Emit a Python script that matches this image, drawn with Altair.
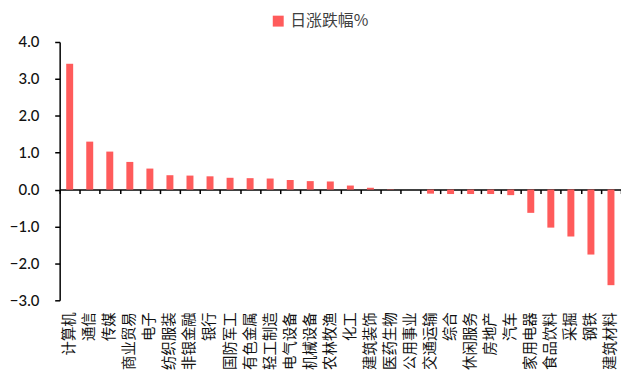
import altair as alt
import pandas as pd

categories = ["计算机", "通信", "传媒", "商业贸易", "电子", "纺织服装", "非银金融", "银行",
              "国防军工", "有色金属", "轻工制造", "电气设备", "机械设备", "农林牧渔", "化工",
              "建筑装饰", "医药生物", "公用事业", "交通运输", "综合", "休闲服务", "房地产",
              "汽车", "家用电器", "食品饮料", "采掘", "钢铁", "建筑材料"]
values = [3.41, 1.30, 1.03, 0.75, 0.57, 0.39, 0.38, 0.36,
          0.32, 0.31, 0.30, 0.26, 0.23, 0.22, 0.11,
          0.05, 0.01, 0.0, -0.11, -0.12, -0.12, -0.12,
          -0.15, -0.63, -1.03, -1.27, -1.76, -2.59]
series_name = "日涨跌幅%"
y_ticks = [-3, -2, -1, 0, 1, 2, 3, 4]

df = pd.DataFrame({"cat": categories, "val": values, "series": series_name})

H = 260
W = 565
y0 = H * 4 / 7  # pixel distance from top to zero line

chart = alt.Chart(df).mark_bar(size=7).encode(
    x=alt.X("cat:N", sort=None, title=None,
            scale=alt.Scale(paddingInner=0, paddingOuter=0),
            axis=alt.Axis(orient="bottom", offset=-(H - y0), labelAngle=-90,
                          labelPadding=119, tickBand="extent", tickSize=4,
                          tickWidth=1.5, tickColor="#000", domainColor="#000",
                          domainWidth=1.5, labelOverlap=False, labelFont="Noto Sans CJK SC",
                          labelFontSize=14.5, labelColor="#111", labelBound=False)),
    y=alt.Y("val:Q", title=None,
            scale=alt.Scale(domain=[-3, 4], nice=False, zero=False),
            axis=alt.Axis(values=y_ticks, format=".1f", grid=False, tickSize=5,
                          tickWidth=1.5, tickColor="#000", domainColor="#000",
                          domainWidth=1.5, labelPadding=16, labelFont="Lato",
                          labelFontSize=15, labelFontWeight=500, labelColor="#111")),
    color=alt.Color("series:N", title=None,
                    scale=alt.Scale(range=["#FF5B5B"]),
                    legend=alt.Legend(orient="none", legendX=212, legendY=-29,
                                      symbolType="square", symbolSize=121,
                                      symbolStrokeWidth=0, padding=0,
                                      labelFont="Noto Sans CJK SC", labelFontSize=16,
                                      labelColor="#404040")),
).properties(
    width=W, height=H,
    autosize=alt.AutoSizeParams(type="none"),
    padding={"left": 52, "top": 33, "right": 0, "bottom": 80},
).configure_view(stroke=None)

chart.save("out.html", embed_options={"renderer": "svg", "actions": False})
